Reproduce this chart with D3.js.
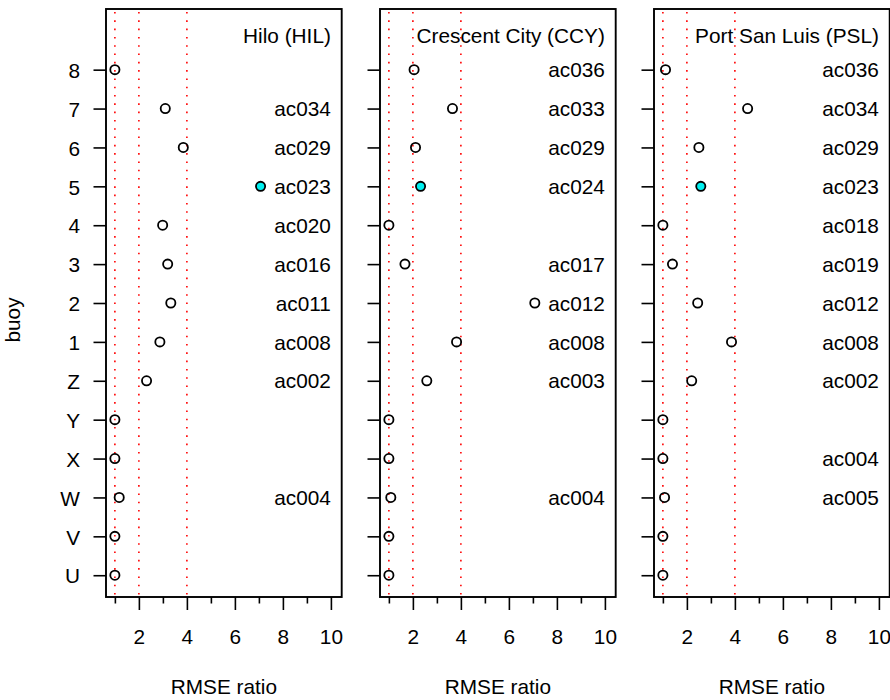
<!DOCTYPE html>
<html>
<head>
<meta charset="utf-8">
<script src="https://cdn.jsdelivr.net/npm/d3@7"></script>
<style>
  html, body { margin: 0; padding: 0; background: #fff; }
  svg { display: block; }
  text { font-family: "Liberation Sans", Arial, Helvetica, sans-serif; fill: #000; }
</style>
</head>
<body>
<svg id="chart" width="890" height="700"></svg>
<script>
// Buoy rows, bottom to top
const buoys = ["U", "V", "W", "X", "Y", "Z", "1", "2", "3", "4", "5", "6", "7", "8"];

// Tide-gauge stations, one panel each
const stations = ["Hilo (HIL)", "Crescent City (CCY)", "Port San Luis (PSL)"];

// RMSE ratio per buoy (same order as buoys)
const ratioHIL = [1.0, 1.0, 1.18, 1.0, 1.0, 2.32, 2.875, 3.33, 3.20, 2.99, 7.07, 3.85, 3.10, 1.0];
const ratioCCY = [1.0, 1.0, 1.08, 1.0, 1.0, 2.58, 3.82, 7.08, 1.67, 1.0, 2.32, 2.11, 3.65, 2.05];
const ratioPSL = [1.0, 1.0, 1.07, 1.0, 1.0, 2.20, 3.86, 2.45, 1.40, 1.0, 2.58, 2.50, 4.53, 1.11];

// Unit-source labels per buoy ("" = none)
const unitHIL = ["", "", "ac004", "", "", "ac002", "ac008", "ac011", "ac016", "ac020", "ac023", "ac029", "ac034", ""];
const unitCCY = ["", "", "ac004", "", "", "ac003", "ac008", "ac012", "ac017", "", "ac024", "ac029", "ac033", "ac036"];
const unitPSL = ["", "", "ac005", "ac004", "", "ac002", "ac008", "ac012", "ac019", "ac018", "ac023", "ac029", "ac034", "ac036"];

// Buoy whose point is filled
const highlightBuoy = "5";

// Reference ratios drawn as dotted lines
const refLines = [1, 2, 4];

// Axis ticks
const xMajorTicks = [2, 4, 6, 8, 10];
const xMinorTicks = [1, 3, 5, 7, 9];

const ratios = [ratioHIL, ratioCCY, ratioPSL];
const units = [unitHIL, unitCCY, unitPSL];

const FONT = 20.8;
const svg = d3.select("#chart");

const panelLeft0 = 106, panelStep = 274, panelWidth = 235.7;
const plotTop = 9, plotBottom = 597;

const y = d3.scaleLinear().domain([0.44, 15.56]).range([plotBottom, plotTop]);
const rowIdx = d3.range(1, buoys.length + 1);

stations.forEach((station, p) => {
  const left = panelLeft0 + p * panelStep;
  const x = d3.scaleLinear().domain([0.63, 10.45]).range([left, left + panelWidth]);
  const g = svg.append("g");

  // dotted reference lines
  g.selectAll("line.ref").data(refLines).join("line")
    .attr("class", "ref")
    .attr("x1", d => x(d)).attr("x2", d => x(d))
    .attr("y1", plotTop + 3).attr("y2", plotBottom)
    .attr("stroke", "#ff0000").attr("stroke-width", 1.6)
    .attr("stroke-dasharray", "1.6,6.7");

  // x axis: major (labelled) and minor ticks
  const xMajor = g.append("g")
    .attr("transform", `translate(0,${plotBottom})`)
    .call(d3.axisBottom(x).tickValues(xMajorTicks).tickSize(13).tickPadding(19.5).tickFormat(d3.format("d")));
  const xMinor = g.append("g")
    .attr("transform", `translate(0,${plotBottom})`)
    .call(d3.axisBottom(x).tickValues(xMinorTicks).tickSize(6.5).tickFormat(""));
  [xMajor, xMinor].forEach(a => {
    a.select(".domain").remove();
    a.selectAll("line").attr("stroke", "#000").attr("stroke-width", 1.6);
    a.selectAll("text").style("font-size", FONT + "px").attr("fill", "#000");
  });

  // y axis ticks on every panel, labels on the first
  const yAx = g.append("g")
    .attr("transform", `translate(${left},0)`)
    .call(d3.axisLeft(y).tickValues(rowIdx).tickSize(12.5).tickPadding(13.5)
      .tickFormat(p === 0 ? (d => buoys[d - 1]) : ""));
  yAx.select(".domain").remove();
  yAx.selectAll("line").attr("stroke", "#000").attr("stroke-width", 1.6);
  yAx.selectAll("text").style("font-size", FONT + "px").attr("fill", "#000").attr("dy", "0.37em");

  // plot box
  g.append("rect")
    .attr("x", left).attr("y", plotTop)
    .attr("width", panelWidth).attr("height", plotBottom - plotTop)
    .attr("fill", "none").attr("stroke", "#000").attr("stroke-width", 1.9);

  // points
  const rows = buoys.map((b, i) => ({ buoy: b, row: i + 1, ratio: ratios[p][i], unit: units[p][i] }));
  g.selectAll("circle.pt").data(rows).join("circle")
    .attr("class", "pt")
    .attr("cx", d => x(d.ratio)).attr("cy", d => y(d.row))
    .attr("r", 4.6)
    .attr("fill", d => d.buoy === highlightBuoy ? "#00f0f0" : "none")
    .attr("stroke", "#000").attr("stroke-width", 1.8);

  // unit-source labels, right aligned at ratio 10
  g.selectAll("text.unit").data(rows.filter(d => d.unit)).join("text")
    .attr("class", "unit")
    .attr("x", x(10)).attr("y", d => y(d.row))
    .attr("dy", "0.37em")
    .attr("text-anchor", "end")
    .style("font-size", FONT + "px")
    .text(d => d.unit);

  // station title
  g.append("text")
    .attr("x", x(10)).attr("y", y(15) + 12.4)
    .attr("text-anchor", "end")
    .style("font-size", FONT + "px")
    .text(station);

  // x axis title
  g.append("text")
    .attr("x", left + panelWidth / 2).attr("y", 693.5)
    .attr("text-anchor", "middle")
    .style("font-size", FONT + "px")
    .text("RMSE ratio");
});

// y axis title
svg.append("text")
  .attr("transform", "translate(20,320) rotate(-90)")
  .attr("text-anchor", "middle")
  .style("font-size", FONT + "px")
  .text("buoy");
</script>
</body>
</html>
